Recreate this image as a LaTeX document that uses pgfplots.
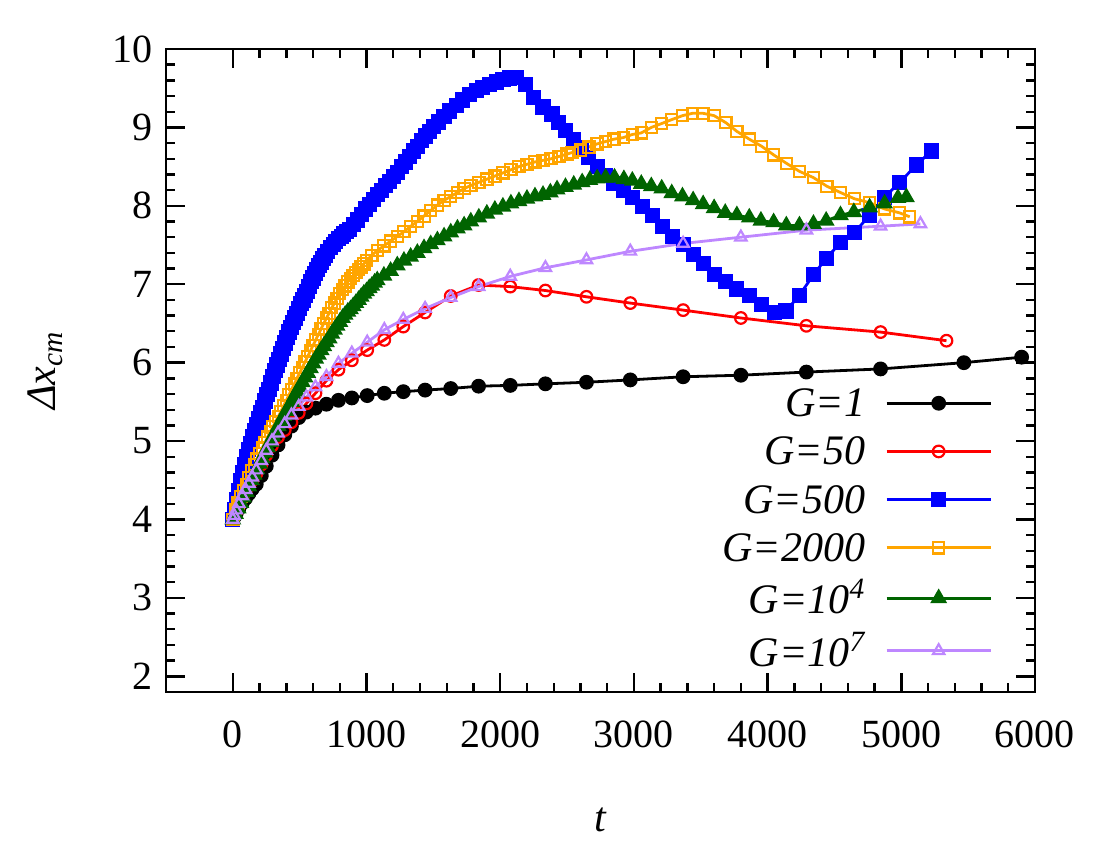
\documentclass[border=0pt]{standalone}
\usepackage{fontspec}
\setmainfont{Liberation Serif}
\usepackage{pgfplots}
\pgfplotsset{compat=1.18}
\usepackage{pgfplotstable}

\definecolor{cOrange}{RGB}{255,165,0}
\definecolor{cGreen}{RGB}{0,100,0}
\definecolor{cPurple}{RGB}{190,135,255}
\newcommand{\lstrut}{\rule[-4pt]{0pt}{19pt}}

\pgfplotstableread{
t y
0 4.00
10 4.03
25 4.08
45 4.14
70 4.21
95 4.27
120 4.33
145 4.39
175 4.45
213 4.56
250 4.68
293 4.82
338 4.95
388 5.08
438 5.19
493 5.30
550 5.37
618 5.42
700 5.47
790 5.52
890 5.55
1005 5.58
1133 5.61
1275 5.63
1438 5.65
1630 5.67
1838 5.70
2075 5.71
2338 5.73
2645 5.75
2973 5.78
3368 5.82
3800 5.84
4290 5.88
4845 5.92
5468 6.00
5900 6.07
}\dataA

\pgfplotstableread{
t y
0 4.00
10 4.04
25 4.10
45 4.18
70 4.27
95 4.35
120 4.43
145 4.50
175 4.58
213 4.70
250 4.82
293 4.94
338 5.05
388 5.14
438 5.24
493 5.36
550 5.48
618 5.61
700 5.77
790 5.91
890 6.03
1005 6.16
1133 6.29
1275 6.46
1438 6.64
1630 6.85
1838 6.99
2075 6.97
2338 6.92
2645 6.84
2973 6.76
3368 6.67
3800 6.57
4290 6.47
4845 6.39
5338 6.28
}\dataB

\pgfplotstableread{
t y
0 4.00
15 4.13
30 4.25
45 4.37
60 4.49
75 4.60
90 4.70
105 4.80
120 4.89
135 4.97
150 5.06
165 5.13
180 5.21
195 5.29
210 5.36
225 5.43
240 5.51
255 5.59
270 5.66
285 5.74
300 5.82
315 5.90
330 5.97
345 6.04
360 6.11
375 6.18
390 6.25
405 6.32
420 6.39
435 6.45
450 6.51
465 6.57
480 6.63
495 6.69
510 6.75
525 6.80
540 6.86
555 6.91
570 6.97
585 7.03
600 7.08
615 7.14
630 7.19
645 7.24
660 7.28
675 7.33
690 7.37
710 7.42
730 7.47
750 7.51
770 7.55
790 7.58
810 7.61
830 7.64
850 7.67
870 7.70
900 7.76
930 7.82
960 7.89
990 7.96
1020 8.02
1050 8.08
1080 8.14
1110 8.20
1140 8.26
1170 8.31
1200 8.37
1230 8.43
1260 8.50
1290 8.56
1320 8.63
1350 8.70
1380 8.76
1410 8.83
1440 8.89
1470 8.95
1500 9.01
1540 9.07
1580 9.14
1620 9.21
1670 9.28
1720 9.35
1770 9.42
1820 9.47
1870 9.51
1920 9.55
1970 9.58
2020 9.61
2070 9.63
2120 9.64
2190 9.55
2250 9.38
2320 9.26
2388 9.17
2438 9.06
2488 8.96
2550 8.85
2605 8.74
2663 8.62
2725 8.50
2788 8.39
2850 8.28
2920 8.20
2988 8.11
3063 7.99
3138 7.88
3213 7.74
3288 7.61
3370 7.51
3443 7.38
3520 7.26
3600 7.12
3683 7.03
3770 6.94
3863 6.86
3955 6.74
4050 6.64
4138 6.66
4238 6.86
4343 7.12
4438 7.33
4545 7.53
4650 7.66
4763 7.88
4875 8.11
4988 8.30
5113 8.52
5225 8.70
}\dataC

\pgfplotstableread{
t y
0 4.00
20 4.12
40 4.21
60 4.29
80 4.37
100 4.45
120 4.53
140 4.62
160 4.70
180 4.77
200 4.84
220 4.91
240 4.98
260 5.05
280 5.12
300 5.18
320 5.25
340 5.31
360 5.38
380 5.45
400 5.52
420 5.59
440 5.66
460 5.73
480 5.80
500 5.87
520 5.94
540 6.01
560 6.08
580 6.15
600 6.22
620 6.29
640 6.36
660 6.43
680 6.50
700 6.57
720 6.63
740 6.70
760 6.76
780 6.82
800 6.88
820 6.93
840 6.98
860 7.03
880 7.07
900 7.11
920 7.15
940 7.19
960 7.22
980 7.26
1000 7.30
1040 7.37
1080 7.43
1130 7.49
1180 7.55
1230 7.61
1280 7.67
1330 7.74
1380 7.80
1430 7.87
1480 7.94
1530 8.01
1580 8.07
1630 8.12
1680 8.17
1730 8.22
1780 8.26
1840 8.30
1900 8.34
1960 8.38
2020 8.42
2080 8.46
2140 8.50
2200 8.53
2260 8.56
2320 8.58
2380 8.60
2440 8.63
2500 8.66
2538 8.68
2600 8.71
2663 8.75
2725 8.79
2788 8.82
2850 8.85
2920 8.87
2988 8.91
3055 8.93
3130 9.00
3208 9.05
3283 9.10
3363 9.15
3438 9.18
3518 9.18
3600 9.15
3688 9.06
3770 8.95
3863 8.85
3955 8.76
4045 8.65
4143 8.54
4238 8.44
4343 8.36
4443 8.25
4545 8.17
4650 8.09
4763 8.04
4875 7.96
4988 7.91
5063 7.86
}\dataD

\pgfplotstableread{
t y
0 4.00
20 4.07
40 4.14
60 4.21
80 4.28
100 4.35
120 4.42
140 4.50
160 4.57
180 4.64
200 4.71
220 4.78
240 4.85
260 4.92
280 4.99
300 5.06
320 5.12
340 5.19
360 5.25
380 5.32
400 5.38
420 5.44
440 5.50
460 5.57
480 5.63
500 5.69
520 5.75
540 5.81
560 5.87
580 5.93
600 5.99
620 6.05
640 6.10
660 6.16
680 6.21
700 6.26
720 6.31
740 6.37
760 6.42
780 6.47
800 6.52
820 6.57
840 6.61
860 6.65
880 6.68
900 6.72
920 6.76
940 6.80
960 6.84
980 6.88
1000 6.91
1020 6.95
1040 6.98
1060 7.02
1080 7.05
1130 7.11
1180 7.17
1230 7.24
1280 7.30
1330 7.35
1380 7.40
1430 7.46
1480 7.51
1530 7.56
1580 7.61
1630 7.66
1680 7.71
1730 7.75
1780 7.80
1840 7.85
1900 7.90
1960 7.95
2020 7.99
2080 8.03
2140 8.06
2200 8.09
2260 8.12
2320 8.14
2375 8.17
2425 8.21
2488 8.24
2550 8.27
2613 8.30
2670 8.33
2725 8.35
2788 8.36
2855 8.36
2925 8.34
2988 8.32
3055 8.28
3130 8.25
3208 8.22
3283 8.16
3363 8.12
3443 8.07
3518 8.02
3600 7.97
3683 7.91
3770 7.88
3863 7.85
3950 7.81
4045 7.79
4140 7.75
4238 7.75
4343 7.77
4438 7.81
4545 7.88
4645 7.92
4763 7.98
4875 8.03
4975 8.10
5038 8.11
}\dataE

\pgfplotstableread{
t y
0 4.00
10 4.05
25 4.12
45 4.20
70 4.30
95 4.38
120 4.46
145 4.54
175 4.63
213 4.75
250 4.88
293 5.00
338 5.10
388 5.22
438 5.33
493 5.44
550 5.56
618 5.69
700 5.82
790 5.99
890 6.12
1005 6.26
1133 6.42
1275 6.55
1438 6.69
1630 6.83
1838 6.97
2075 7.10
2338 7.21
2645 7.31
2973 7.42
3368 7.52
3800 7.60
4290 7.69
4845 7.74
5143 7.77
}\dataF

\begin{document}
\begin{tikzpicture}
\useasboundingbox (-83pt,-79pt) rectangle (467pt,346pt);
\begin{axis}[
  at={(0,0)}, anchor=south west,
  scale only axis,
  width=434.5pt, height=321.5pt,
  xmin=-500, xmax=6000,
  ymin=1.8, ymax=10,
  hide axis,
  legend plot pos=right,
  legend cell align=right,
  legend style={draw=none, fill=none, at={(axis description cs:0.958,0.022)}, anchor=south east,
    font=\fontsize{21}{21}\selectfont, row sep=3.6pt},
  legend image code/.code={
    \path (0pt,0pt);
    \draw[mark repeat=2, mark phase=2] plot coordinates {(8pt,0pt) (34pt,0pt) (60pt,0pt)};
  },
]
\addlegendimage{black, line width=1.4pt, mark=*, mark size=3pt, mark options={solid, fill=black}}
\addlegendentry{\lstrut\textit{G=1}}
\addlegendimage{red, line width=1.4pt, mark=o, mark size=2.9pt, mark options={solid, fill=white, line width=1.1pt}}
\addlegendentry{\lstrut\textit{G=50}}
\addlegendimage{blue, line width=1.4pt, mark=square*, mark size=3.1pt, mark options={solid, fill=blue}}
\addlegendentry{\lstrut\textit{G=500}}
\addlegendimage{cOrange, line width=1.4pt, mark=square, mark size=2.8pt, mark options={solid, fill=white, line width=1.1pt}}
\addlegendentry{\lstrut\textit{G=2000}}
\addlegendimage{cGreen, line width=1.4pt, mark=triangle*, mark size=3.5pt, mark options={solid, fill=cGreen}}
\addlegendentry{\lstrut\textit{G=10\textsuperscript{4}}}
\addlegendimage{cPurple, line width=1.4pt, mark=triangle, mark size=3.3pt, mark options={solid, fill=white, line width=1.1pt}}
\addlegendentry{\lstrut\textit{G=10\textsuperscript{7}}}
\end{axis}
\begin{axis}[
  at={(0,0)}, anchor=south west,
  scale only axis,
  width=434.5pt, height=321.5pt,
  xmin=-500, xmax=6000,
  ymin=1.8, ymax=10,
  axis on top,
  xtick={0,1000,...,6000},
  ytick={2,3,...,10},
  minor x tick num=4,
  minor y tick num=4,
  tick align=inside,
  tick pos=both,
  major tick length=9.5pt,
  minor tick length=4.5pt,
  tick style={black, line width=1.2pt},
  axis line style={line width=1.2pt},
  /pgf/number format/assume math mode=true,
  scaled x ticks=false,
  xticklabel style={/pgf/number format/1000 sep={}, font=\fontsize{20}{24}\selectfont, yshift=-11pt},
  yticklabel style={font=\fontsize{20}{24}\selectfont, xshift=-3pt},
  xlabel={\textit{t}},
  ylabel={\textit{Δx\textsubscript{cm}}},
  xlabel style={at={(axis description cs:0.5,-0.199)}, anchor=center, font=\fontsize{21}{24}\selectfont},
  ylabel style={at={(axis description cs:-0.139,0.5)}, rotate=0, anchor=center, font=\fontsize{21}{24}\selectfont},
]
\addplot[black, line width=1.4pt, mark=*, mark size=3pt, mark options={solid, fill=black}] table[x=t,y=y] {\dataA};
\addplot[red, line width=1.4pt, mark=o, mark size=2.9pt, mark options={solid, fill=white, line width=1.1pt}] table[x=t,y=y] {\dataB};
\addplot[blue, line width=1.4pt, mark=square*, mark size=3.1pt, mark options={solid, fill=blue}] table[x=t,y=y] {\dataC};
\addplot[cOrange, line width=1.4pt, mark=square, mark size=2.8pt, mark options={solid, fill=white, line width=1.1pt}] table[x=t,y=y] {\dataD};
\addplot[cGreen, line width=1.4pt, mark=triangle*, mark size=3.5pt, mark options={solid, fill=cGreen}] table[x=t,y=y] {\dataE};
\addplot[cPurple, line width=1.4pt, mark=triangle, mark size=3.3pt, mark options={solid, fill=white, line width=1.1pt}] table[x=t,y=y] {\dataF};
\end{axis}
\end{tikzpicture}
\end{document}
